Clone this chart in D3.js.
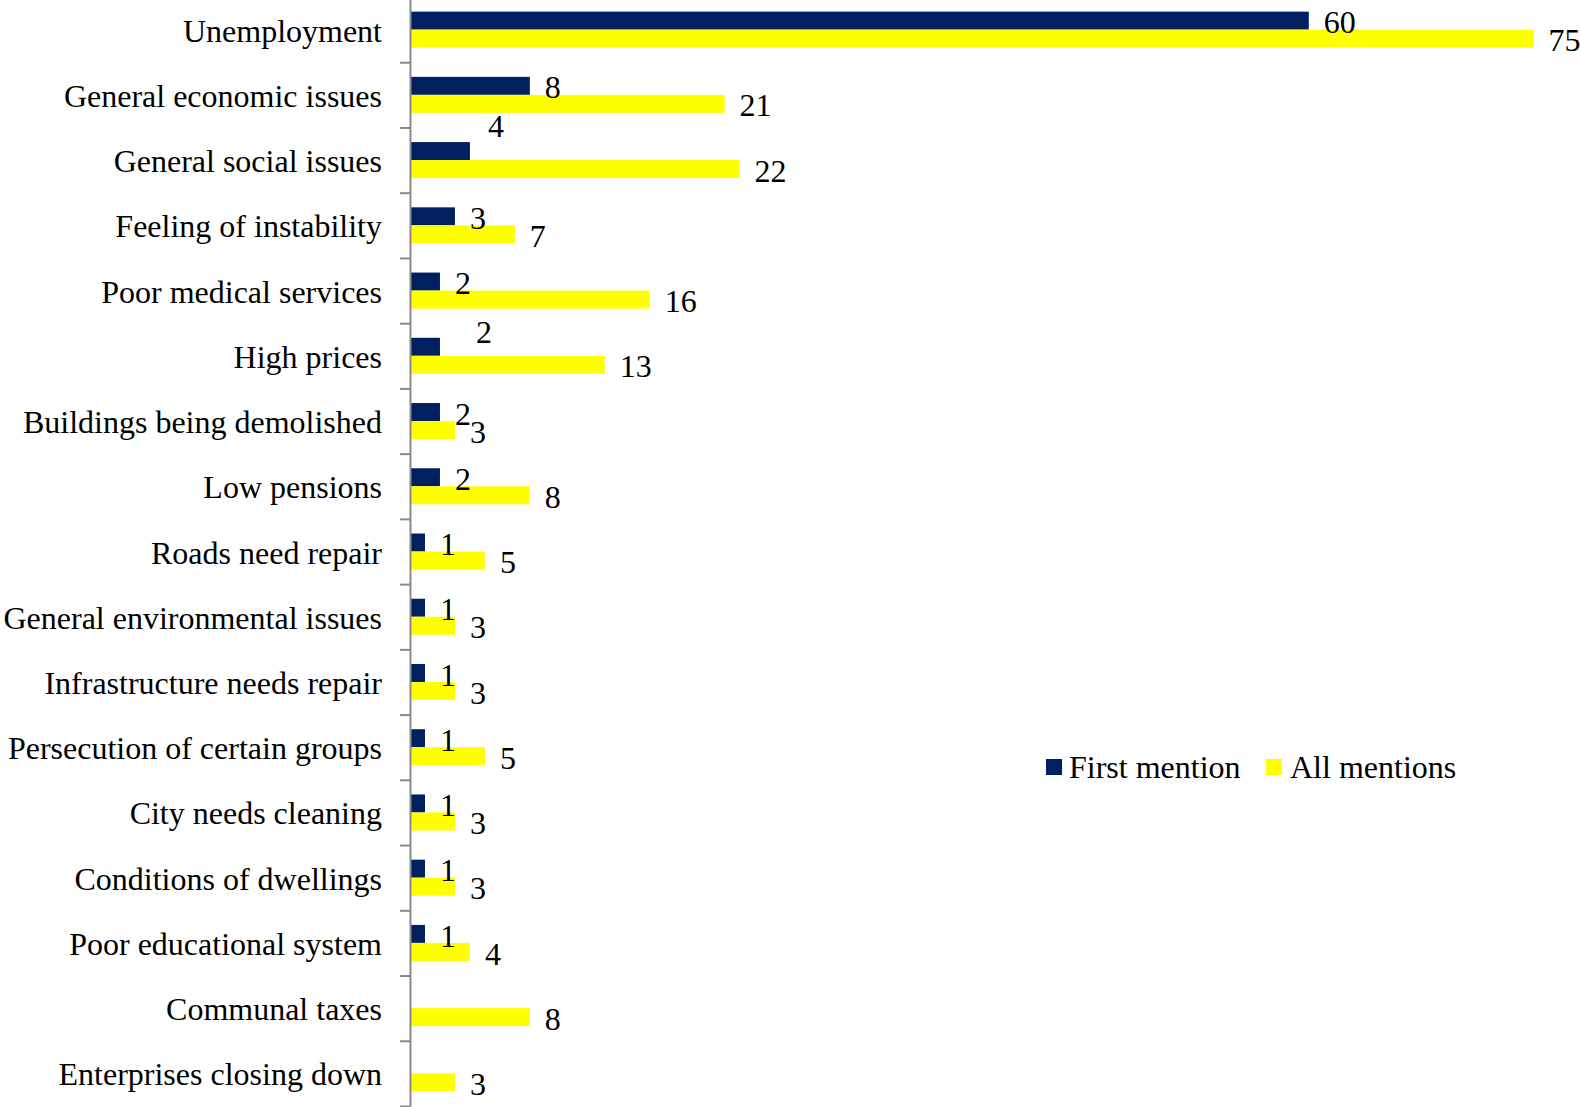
<!DOCTYPE html>
<html>
<head>
<meta charset="utf-8">
<script src="https://cdn.jsdelivr.net/npm/d3@7"></script>
<style>
  html, body { margin: 0; padding: 0; background: #fff; }
  svg { display: block; }
  text { font-family: "Liberation Serif", "Times New Roman", serif; fill: #000; }
</style>
</head>
<body>
<svg id="chart" width="1581" height="1107"></svg>
<script>
const categories = [
  "Unemployment",
  "General economic issues",
  "General social issues",
  "Feeling of instability",
  "Poor medical services",
  "High prices",
  "Buildings being demolished",
  "Low pensions",
  "Roads need repair",
  "General environmental issues",
  "Infrastructure needs repair",
  "Persecution of certain groups",
  "City needs cleaning",
  "Conditions of dwellings",
  "Poor educational system",
  "Communal taxes",
  "Enterprises closing down"
];
const firstMention = [60, 8, 4, 3, 2, 2, 2, 2, 1, 1, 1, 1, 1, 1, 1, null, null];
const allMentions  = [75, 21, 22, 7, 16, 13, 3, 8, 5, 3, 3, 5, 3, 3, 4, 8, 3];
const seriesNames = ["First mention", "All mentions"];
const seriesColors = ["#002060", "#FFFF00"];

// manual label nudges (as in the original, some labels were dragged)
const labelNudge = { "General social issues": [3, -27], "High prices": [21, -16] };

(function () {
  const svg = d3.select("#chart");
  const fontSize = 32;
  const x0 = 410, yTop = -3, yBottom = 1106;

  const x = d3.scaleLinear().domain([0, 75]).range([x0, x0 + 75 * 14.98]);
  const y = d3.scaleBand().domain(categories).range([yTop, yBottom]).paddingInner(0).paddingOuter(0);
  const yB = d3.scaleLinear().domain([0, categories.length]).range([yTop, yBottom]);
  const barH = 18;

  const marks = [];
  categories.forEach((c, i) => {
    const cy = y(c) + y.bandwidth() / 2;
    [firstMention[i], allMentions[i]].forEach((v, s) => {
      if (v == null) return;
      marks.push({ cat: c, s, v, by: cy - barH + s * barH });
    });
  });

  svg.append("g").selectAll("rect").data(marks).join("rect")
    .attr("x", x(0))
    .attr("y", d => d.by)
    .attr("width", d => x(d.v) - x(0))
    .attr("height", barH)
    .attr("fill", d => seriesColors[d.s]);

  svg.append("g").selectAll("text").data(marks).join("text")
    .attr("x", d => x(d.v) + 15 + ((d.s === 0 && labelNudge[d.cat]) ? labelNudge[d.cat][0] : 0))
    .attr("y", d => d.by + barH / 2 + 12.6 + ((d.s === 0 && labelNudge[d.cat]) ? labelNudge[d.cat][1] : 0))
    .attr("font-size", fontSize)
    .text(d => d.v);

  const axis = d3.axisLeft(yB).tickValues(d3.range(categories.length + 1)).tickFormat("").tickSize(10).tickSizeOuter(0);
  const ag = svg.append("g").attr("transform", `translate(${x0},0)`).call(axis);
  ag.select(".domain").attr("stroke", "#898989").attr("stroke-width", 2);
  ag.selectAll(".tick line").attr("stroke", "#898989").attr("stroke-width", 2);

  svg.append("g").selectAll("text").data(categories).join("text")
    .attr("x", 382)
    .attr("y", d => y(d) + y.bandwidth() / 2 + 12)
    .attr("text-anchor", "end")
    .attr("font-size", fontSize)
    .text(d => d);

  const legend = svg.append("g");
  const legendPos = [[1046, 1069], [1266, 1290]];
  seriesNames.forEach((n, i) => {
    legend.append("rect").attr("x", legendPos[i][0]).attr("y", 759).attr("width", 16).attr("height", 16).attr("fill", seriesColors[i]);
    legend.append("text").attr("x", legendPos[i][1]).attr("y", 778).attr("font-size", fontSize).text(n);
  });
})();
</script>
</body>
</html>
